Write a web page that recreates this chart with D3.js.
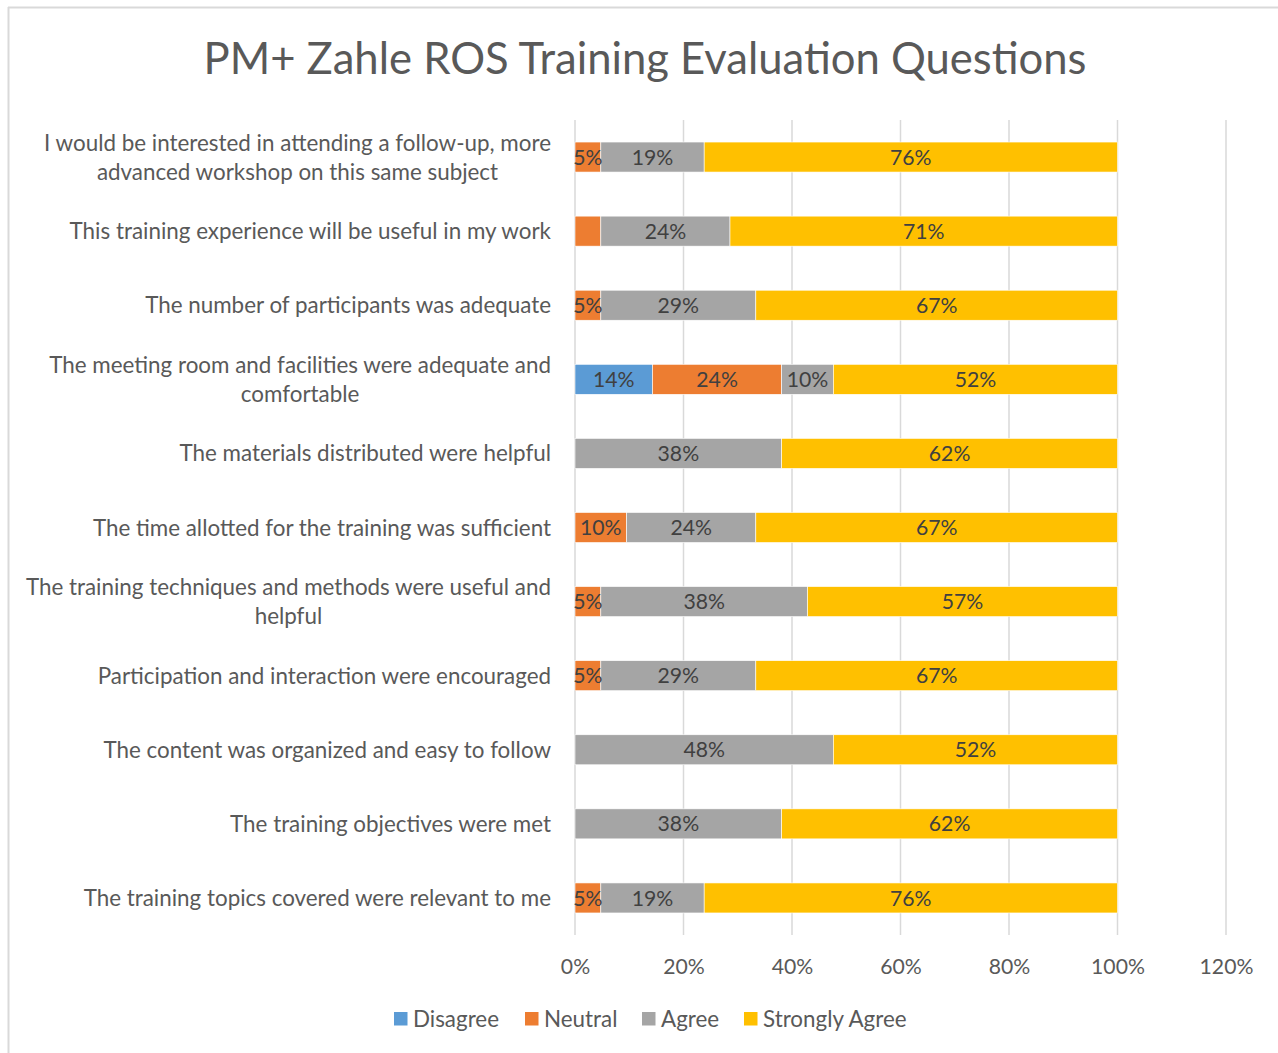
<!DOCTYPE html>
<html><head><meta charset="utf-8">
<script src="https://cdn.jsdelivr.net/npm/d3@7"></script>
<style>html,body{margin:0;padding:0;background:#fff;}svg{display:block;}</style>
</head><body>
<svg id="chart" width="1278" height="1053"></svg>
<script>
const categories = [
  "I would be interested in attending a follow-up, more|advanced workshop on this same subject",
  "This training experience will be useful in my work",
  "The number of participants was adequate",
  "The meeting room and facilities were adequate and|comfortable",
  "The materials distributed were helpful",
  "The time allotted for the training was sufficient",
  "The training techniques and methods were useful and|helpful",
  "Participation and interaction were encouraged",
  "The content was organized and easy to follow",
  "The training objectives were met",
  "The training topics covered were relevant to me"
];
const seriesNames = ["Disagree", "Neutral", "Agree", "Strongly Agree"];
const disagree      = [0, 0, 0, 0.1429, 0, 0, 0, 0, 0, 0, 0];
const neutral       = [0.0476, 0.0476, 0.0476, 0.2381, 0, 0.0952, 0.0476, 0.0476, 0, 0, 0.0476];
const agree         = [0.1905, 0.2381, 0.2857, 0.0952, 0.3810, 0.2381, 0.3810, 0.2857, 0.4762, 0.3810, 0.1905];
const stronglyAgree = [0.7619, 0.7143, 0.6667, 0.5238, 0.6190, 0.6667, 0.5714, 0.6667, 0.5238, 0.6190, 0.7619];
const showNeutralLabel = [true, false, true, true, true, true, true, true, true, true, true];
const xTicks = [0, 0.2, 0.4, 0.6, 0.8, 1.0, 1.2];
const colors = ["#5b9bd5", "#ed7d31", "#a5a5a5", "#ffc000"];
const title = "PM+ Zahle ROS Training Evaluation Questions";

const FONT = "Lato, 'Open Sans', sans-serif";
const svg = d3.select("#chart");

// frame (top and left edge of chart border)
svg.append("line").attr("x1", 8).attr("x2", 1278).attr("y1", 7.5).attr("y2", 7.5).attr("stroke", "#d9d9d9").attr("stroke-width", 2);
svg.append("line").attr("x1", 8.5).attr("x2", 8.5).attr("y1", 7).attr("y2", 1053).attr("stroke", "#d9d9d9").attr("stroke-width", 2);

const x = d3.scaleLinear().domain([0, 1.2]).range([575, 1226]);
const y = d3.scaleBand().domain(d3.range(categories.length)).range([120, 935]).paddingInner(0.595).paddingOuter(0.2975);

// gridlines
svg.append("g").selectAll("line").data(xTicks).join("line")
  .attr("x1", d => x(d)).attr("x2", d => x(d)).attr("y1", 120).attr("y2", 935)
  .attr("stroke", "#d9d9d9").attr("stroke-width", 1.5);

// title
svg.append("text").attr("x", 645).attr("y", 74).attr("text-anchor", "middle")
  .attr("font-family", FONT).attr("font-size", 43.6).attr("fill", "#595959").text(title);

// stacked data
const table = categories.map((c, i) => ({ i, vals: [disagree[i], neutral[i], agree[i], stronglyAgree[i]] }));
const segs = [];
table.forEach(r => {
  let acc = 0;
  r.vals.forEach((v, k) => {
    segs.push({ i: r.i, k, x0: acc, x1: acc + v, v });
    acc += v;
  });
});

const gBars = svg.append("g");
gBars.selectAll("rect").data(segs.filter(s => s.v > 0)).join("rect")
  .attr("x", d => x(d.x0)).attr("width", d => x(d.x1) - x(d.x0))
  .attr("y", d => y(d.i)).attr("height", y.bandwidth())
  .attr("fill", d => colors[d.k]).attr("stroke", "#fff").attr("stroke-width", 0.6);

const fmt = d3.format(".0%");
gBars.selectAll("text").data(segs.filter(s => s.v > 0 && !(s.k === 1 && !showNeutralLabel[s.i]))).join("text")
  .attr("x", d => (x(d.x0) + x(d.x1)) / 2).attr("y", d => y(d.i) + y.bandwidth() / 2)
  .attr("dy", "0.36em").attr("text-anchor", "middle")
  .attr("font-family", FONT).attr("font-size", 21.2).attr("fill", "#404040")
  .text(d => fmt(d.v));

// category labels
const gLab = svg.append("g").attr("font-family", FONT).attr("font-size", 22.4).attr("fill", "#595959");
categories.forEach((c, i) => {
  const lines = c.split("|");
  const cy = y(i) + y.bandwidth() / 2;
  const t = gLab.append("text").attr("text-anchor", "middle");
  lines.forEach((ln, j) => {
    t.append("tspan").attr("y", cy + (j - (lines.length - 1) / 2) * 29).attr("dy", "0.36em").text(ln);
  });
  let maxW = 0;
  t.selectAll("tspan").each(function () { maxW = Math.max(maxW, this.getComputedTextLength()); });
  const cx = 551 - maxW / 2;
  t.selectAll("tspan").attr("x", cx);
});

// x axis labels
const xAxis = d3.axisBottom(x).tickValues(xTicks).tickFormat(d3.format(".0%")).tickSize(0).tickPadding(0);
const gx = svg.append("g").attr("transform", "translate(0,958)").call(xAxis);
gx.select(".domain").remove();
gx.selectAll("text").attr("font-family", FONT).attr("font-size", 21.2).attr("fill", "#595959").attr("dy", "0.36em").attr("y", 8);

// legend
const legendX = [394, 525, 642, 744];
const gLeg = svg.append("g").attr("font-family", FONT).attr("font-size", 22.4).attr("fill", "#595959");
seriesNames.forEach((n, k) => {
  gLeg.append("rect").attr("x", legendX[k]).attr("y", 1012).attr("width", 13.5).attr("height", 13.5).attr("fill", colors[k]);
  gLeg.append("text").attr("x", legendX[k] + 19).attr("y", 1019).attr("dy", "0.36em").text(n);
});
</script>
</body></html>
